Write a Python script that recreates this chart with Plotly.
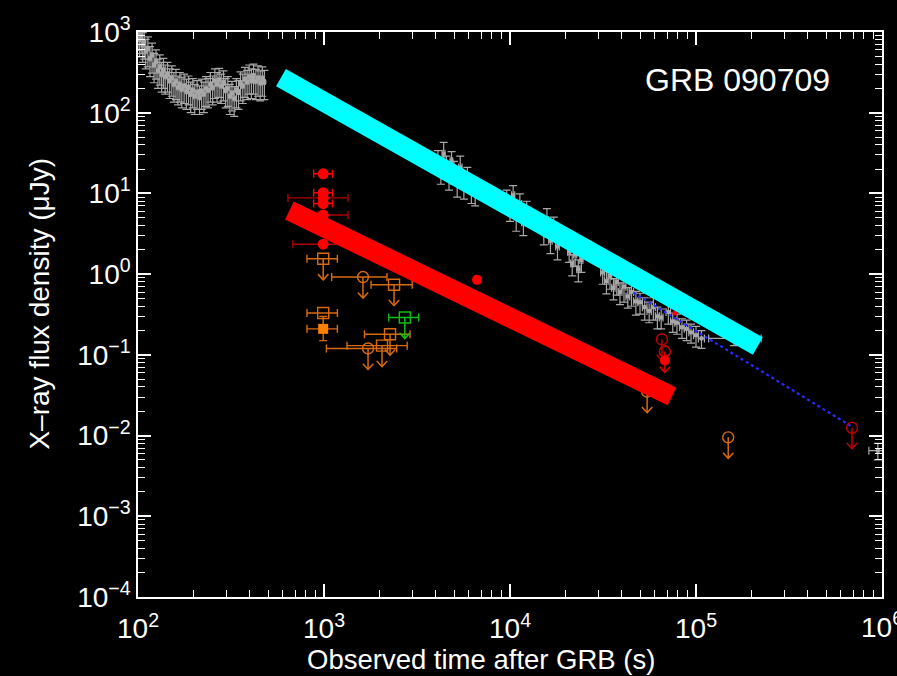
import numpy as np
import plotly.graph_objects as go

# ---------------- data ----------------
# Swift/XRT early light curve (s, microJy)
early_t = [100, 102, 104, 106, 108, 110, 113, 116, 119, 122, 125, 128, 131, 134, 137,
           140, 144, 148, 152, 156, 160, 164, 168, 172, 177, 182, 187, 192, 197, 202,
           208, 214, 220, 226, 232, 238, 245, 252, 259, 266, 273, 280, 288, 296, 304,
           312, 320, 329, 338, 347, 356, 366, 376, 386, 396, 407, 418, 430, 442, 454,
           466, 478]
early_f = [980, 820, 900, 700, 760, 580, 620, 470, 520, 390, 430, 330, 370, 300, 335,
           280, 300, 250, 270, 225, 245, 205, 225, 195, 215, 185, 205, 170, 190, 160,
           180, 155, 185, 170, 200, 190, 225, 205, 250, 225, 255, 215, 235, 190, 200,
           160, 175, 150, 190, 180, 230, 215, 260, 240, 280, 250, 285, 245, 270, 235,
           265, 240]
early_ferr = [390, 330, 360, 280, 300, 230, 250, 190, 210, 155, 170, 130, 150, 120, 135,
              110, 120, 100, 110, 90, 100, 80, 90, 80, 85, 75, 80, 70, 75, 65,
              70, 60, 75, 70, 80, 75, 90, 80, 100, 90, 100, 85, 95, 75, 80,
              65, 70, 60, 75, 70, 90, 85, 105, 95, 110, 100, 115, 100, 110, 95,
              105, 95]
early_terr = [1.2, 1.2, 1.2, 1.3, 1.3, 1.5, 1.5, 1.5, 1.5, 1.5, 1.5, 1.5, 1.5, 1.5, 1.5,
              2.0, 2.0, 2.0, 2.0, 2.0, 2.0, 2.0, 2.0, 2.5, 2.5, 2.5, 2.5, 2.5, 2.5, 3.0,
              3.0, 3.0, 3.0, 3.0, 3.0, 3.5, 3.5, 3.5, 3.5, 3.5, 3.5, 4.0, 4.0, 4.0, 4.0,
              4.0, 4.5, 4.5, 4.5, 4.5, 5.0, 5.0, 5.0, 5.0, 5.5, 5.5, 6.0, 6.0, 6.0, 6.0,
              6.0, 6.0]

# Swift/XRT late light curve
late_t = [4100, 4250, 4400, 4550, 4700, 4850, 5000, 5200, 5400, 5650, 5900, 6200, 6500,
          9600, 10000, 10400, 10800, 11300, 11800, 12300,
          15200, 15800, 16500, 17200, 18000,
          20800, 21600, 22400, 23300, 24200,
          31500, 33000, 34500, 36000, 37500, 39000, 41000, 43000, 45000, 47500, 50000,
          53000, 56000, 59000, 62000, 65000,
          71000, 75000, 79000, 84000, 89000, 94000, 100000, 107000,
          160000, 950000]
late_f = [26, 19, 31, 22, 16, 25, 19, 14, 21, 12.5, 16, 11.5, 11,
          8.5, 6.5, 9.5, 5.2, 7.4, 4.4, 6.0,
          3.3, 4.7, 2.6, 3.9, 2.2,
          1.9, 1.35, 1.75, 1.15, 1.5,
          1.05, 0.82, 0.95, 0.68, 0.80, 0.60, 0.70, 0.53, 0.60, 0.46, 0.45,
          0.39, 0.35, 0.39, 0.30, 0.29,
          0.34, 0.26, 0.25, 0.22, 0.21, 0.19, 0.175, 0.16,
          0.16, 0.0065]
late_ferr = [8, 6, 12, 7, 5, 8, 6, 5, 8, 4, 5, 4, 4,
             2.5, 2.0, 3.0, 1.8, 2.5, 1.4, 2.0,
             1.0, 1.8, 0.8, 1.2, 0.7,
             0.5, 0.4, 0.5, 0.35, 0.45,
             0.3, 0.25, 0.3, 0.2, 0.25, 0.18, 0.25, 0.15, 0.2, 0.15, 0.13,
             0.12, 0.1, 0.12, 0.09, 0.08,
             0.1, 0.07, 0.07, 0.06, 0.06, 0.05, 0.05, 0.04,
             0.03, 0.0015]
late_tlo = [4000, 4170, 4320, 4470, 4620, 4770, 4920, 5100, 5300, 5520, 5780, 6050, 6350,
            9400, 9800, 10200, 10600, 11050, 11550, 12050,
            14900, 15500, 16150, 16850, 17600,
            20400, 21200, 22000, 22850, 23750,
            30700, 32200, 33700, 35200, 36700, 38200, 40000, 42000, 44000, 46200, 48700,
            51500, 54500, 57500, 60500, 63500,
            69000, 73000, 77000, 81500, 86500, 91500, 97000, 103000,
            117000, 850000]
late_thi = [4170, 4320, 4470, 4620, 4770, 4920, 5100, 5300, 5520, 5780, 6050, 6350, 6650,
            9800, 10200, 10600, 11050, 11550, 12050, 12550,
            15500, 16150, 16850, 17600, 18400,
            21200, 22000, 22850, 23750, 24650,
            32200, 33700, 35200, 36700, 38200, 40000, 42000, 44000, 46200, 48700, 51500,
            54500, 57500, 60500, 63500, 66500,
            73000, 77000, 81500, 86500, 91500, 97000, 103000, 111000,
            224000, 1050000]

# Optical / UV detections (filled symbols)
det_t = [990, 990, 990, 990, 990, 990, 6650, 68000, 77000]
det_f = [17.5, 10.2, 8.8, 7.5, 5.4, 2.35, 0.85, 0.085, 0.33]
det_tlo = [880, 880, 640, 880, 930, 680, 6650, 68000, 77000]
det_thi = [1110, 1110, 1345, 1110, 1345, 1300, 6650, 68000, 77000]
det_color = ["#ff0000", "#ff0000", "#b00000", "#ff0000", "#b00000", "#b00000",
             "#ff0000", "#ff0000", "#ff0000"]
det_size = [11, 11, 11, 11, 11, 11, 10, 10, 5]

# orange filled square detection with errors
osq_t = [990]
osq_f = [0.21]
osq_tlo = [810]
osq_thi = [1180]
osq_flo = [0.15]
osq_fhi = [0.30]

# Upper limits (open symbols)
ul_t = [990, 1620, 2380, 990, 2265, 2050, 1725, 2720, 54600, 149000, 690000, 65600, 68000]
ul_f = [1.55, 0.92, 0.74, 0.33, 0.18, 0.13, 0.12, 0.29, 0.035, 0.0095, 0.0125, 0.155, 0.11]
ul_tlo = [810, 1100, 1790, 810, 1650, 1330, 1030, 2230, 54600, 149000, 690000, 65600, 68000]
ul_thi = [1180, 2180, 2980, 1180, 2900, 2800, 2460, 3230, 54600, 149000, 690000, 65600, 68000]
ul_symbol = ["square-open", "circle-open", "square-open", "square-open", "square-open",
             "square-open", "circle-open", "square-open", "circle-open", "circle-open",
             "circle-open", "circle-open", "circle-open"]
ul_color = ["#d86a10", "#d86a10", "#d86a10", "#d86a10", "#d86a10", "#d86a10", "#d86a10",
            "#10c010", "#d86a10", "#d86a10", "#c00000", "#c00000", "#e00000"]
ul_arrow = [True, True, True, False, True, True, True, True, True, True, True, True, True]

# power-law fits (bands)
cyan_t = [587, 215000]
cyan_f = [272, 0.129]
red_t = [652, 74300]
red_f = [6.15, 0.0306]
# dotted extrapolation
dot_t = [46000, 690000]
dot_f = [0.59, 0.0129]

# axis ticks
x_tickvals = [1e2, 1e3, 1e4, 1e5, 1e6]
x_ticktext = ["10<sup>2</sup>", "10<sup>3</sup>", "10<sup>4</sup>", "10<sup>5</sup>",
              "10<sup>6</sup>"]
y_tickvals = [1e-4, 1e-3, 1e-2, 1e-1, 1e0, 1e1, 1e2, 1e3]
y_ticktext = ["10<sup>\u22124</sup>", "10<sup>\u22123</sup>", "10<sup>\u22122</sup>",
              "10<sup>\u22121</sup>", "10<sup>0</sup>", "10<sup>1</sup>",
              "10<sup>2</sup>", "10<sup>3</sup>"]
x_title = "Observed time after GRB (s)"
y_title = "X\u2013ray flux density (\u03bcJy)"
label_text = "GRB 090709"

# ---------------- figure ----------------
fig = go.Figure()


def asym(v, lo, hi):
    return dict(type="data", symmetric=False,
                array=[h - x for x, h in zip(v, hi)],
                arrayminus=[x - l for x, l in zip(v, lo)])


grey = "#a8a8a8"
fig.add_trace(go.Scatter(
    x=early_t, y=early_f, mode="markers",
    marker=dict(symbol="square", size=4, color=grey),
    error_y=dict(type="data", array=early_ferr, color=grey, thickness=1.2, width=4),
    error_x=dict(type="data", array=early_terr, color=grey, thickness=1.2, width=3),
    showlegend=False, hoverinfo="skip"))
fig.add_trace(go.Scatter(
    x=late_t, y=late_f, mode="markers",
    marker=dict(symbol="square", size=4, color=grey),
    error_y=dict(type="data", array=late_ferr, color=grey, thickness=1.2, width=4),
    error_x=dict(asym(late_t, late_tlo, late_thi), color=grey, thickness=1.2, width=4),
    showlegend=False, hoverinfo="skip"))

# blue dotted extrapolation
fig.add_trace(go.Scatter(x=dot_t, y=dot_f, mode="lines",
                         line=dict(color="#2a2aff", width=2.2, dash="dot"),
                         showlegend=False, hoverinfo="skip"))

# upper limits: horizontal error bars + symbols
for t, f, lo, hi, sym, col in zip(ul_t, ul_f, ul_tlo, ul_thi, ul_symbol, ul_color):
    fig.add_trace(go.Scatter(
        x=[t], y=[f], mode="markers",
        marker=dict(symbol=sym, size=11, color=col, line=dict(width=1.4, color=col)),
        error_x=dict(asym([t], [lo], [hi]), color=col, thickness=1.4, width=4,
                     visible=hi > lo),
        showlegend=False, hoverinfo="skip"))

# arrows for upper limits (built from the data values in log space)
arrow_len = 0.26   # decades
head_h = 0.07
head_w = 0.028
ax_by_col = {}
for t, f, col, a in zip(ul_t, ul_f, ul_color, ul_arrow):
    if not a:
        continue
    tip = f * 10 ** (-arrow_len)
    xs, ys = ax_by_col.setdefault(col, ([], []))
    xs += [t, t, None, t * 10 ** (-head_w), t, t * 10 ** head_w, None]
    ys += [f, tip, None, tip * 10 ** head_h, tip, tip * 10 ** head_h, None]
for col, (xs, ys) in ax_by_col.items():
    fig.add_trace(go.Scatter(x=xs, y=ys, mode="lines",
                             line=dict(color=col, width=1.5),
                             showlegend=False, hoverinfo="skip"))

# orange filled square
fig.add_trace(go.Scatter(
    x=osq_t, y=osq_f, mode="markers",
    marker=dict(symbol="square", size=10, color="#ff8000"),
    error_x=dict(asym(osq_t, osq_tlo, osq_thi), color="#d86a10", thickness=1.4, width=4),
    error_y=dict(asym(osq_f, osq_flo, osq_fhi), color="#d86a10", thickness=1.4, width=4),
    showlegend=False, hoverinfo="skip"))

# red detections
for t, f, lo, hi, col, sz in zip(det_t, det_f, det_tlo, det_thi, det_color, det_size):
    fig.add_trace(go.Scatter(
        x=[t], y=[f], mode="markers",
        marker=dict(symbol="circle", size=sz, color="#ff0000"),
        error_x=dict(asym([t], [lo], [hi]), color=col, thickness=1.4, width=4,
                     visible=hi > lo),
        showlegend=False, hoverinfo="skip"))

# bands
fig.add_trace(go.Scatter(x=cyan_t, y=cyan_f, mode="lines",
                         line=dict(color="#00ffff", width=20),
                         showlegend=False, hoverinfo="skip"))
fig.add_trace(go.Scatter(x=red_t, y=red_f, mode="lines",
                         line=dict(color="#ff0000", width=20),
                         showlegend=False, hoverinfo="skip"))

font_name = "Liberation Sans, Arial, sans-serif"
x_minor = [m * 10 ** d for d in range(2, 6) for m in range(2, 10)]
y_minor = [m * 10.0 ** d for d in range(-4, 3) for m in range(2, 10)]

axis_common = dict(
    type="log", showgrid=False, zeroline=False,
    showline=True, linecolor="white", linewidth=1.5, mirror="allticks",
    ticks="inside", ticklen=13, tickwidth=1.5, tickcolor="white",
    tickmode="array",
    tickfont=dict(family=font_name, size=28, color="white"),
)

fig.update_xaxes(
    **axis_common, range=[2, 6], tickvals=x_tickvals, ticktext=x_ticktext,
    ticklabelstandoff=6,
    minor=dict(ticks="inside", ticklen=7, tickwidth=1.2, tickcolor="white",
               tickmode="array", tickvals=x_minor),
)
fig.update_yaxes(
    **axis_common, range=[-4, 3], tickvals=y_tickvals, ticktext=y_ticktext,
    minor=dict(ticks="inside", ticklen=7, tickwidth=1.2, tickcolor="white",
               tickmode="array", tickvals=y_minor),
)

# last x tick label (sits on the right edge; partly cut off like the original)
fig.add_annotation(text=x_ticktext[-1], x=np.log10(x_tickvals[-1]), xref="x",
                   y=-0.049, yref="paper", showarrow=False,
                   xanchor="center", yanchor="middle",
                   font=dict(family=font_name, size=28, color="white"))

# axis titles
fig.add_annotation(text=x_title, x=0.461, y=-0.11, xref="paper", yref="paper",
                   showarrow=False, xanchor="center", yanchor="middle",
                   font=dict(family=font_name, size=27.5, color="white"))
fig.add_annotation(text=y_title, x=-0.132, y=0.519, xref="paper", yref="paper",
                   showarrow=False, xanchor="center", yanchor="middle", textangle=-90,
                   font=dict(family=font_name, size=28, color="white"))

fig.add_annotation(text=label_text, x=0.806, y=0.915, xref="paper", yref="paper",
                   showarrow=False, xanchor="center", yanchor="middle",
                   font=dict(family=font_name, size=32, color="white"))

fig.update_layout(
    width=897, height=676,
    margin=dict(l=138, r=15, t=27, b=79),
    paper_bgcolor="black", plot_bgcolor="black",
    showlegend=False,
)

fig.write_html("out.html")
